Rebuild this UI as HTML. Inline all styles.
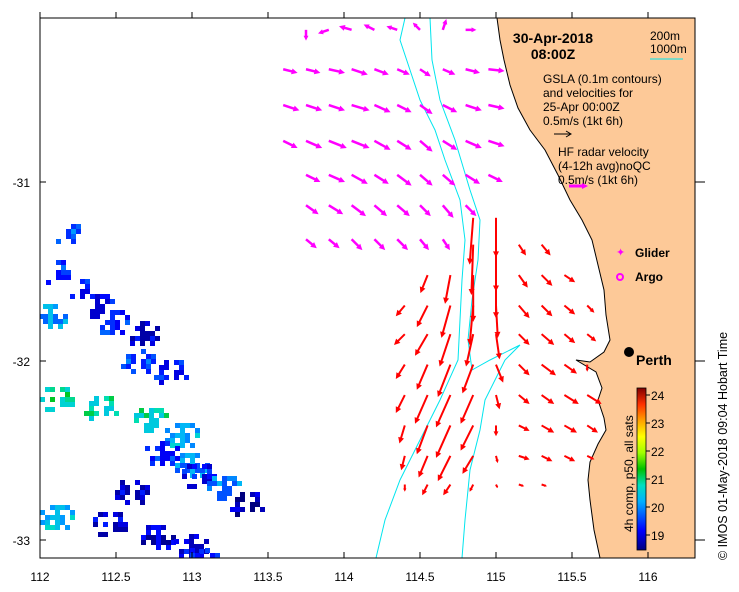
<!DOCTYPE html>
<html><head><meta charset="utf-8"><style>
html,body{margin:0;padding:0;background:#fff;}
svg{display:block;font-family:"Liberation Sans",sans-serif;}
</style></head><body>
<svg id="map" width="739" height="592" viewBox="0 0 739 592">
<defs>
<linearGradient id="jet" x1="0" y1="1" x2="0" y2="0">
<stop offset="0" stop-color="#00007f"/><stop offset="0.12" stop-color="#0000ff"/>
<stop offset="0.3" stop-color="#00b0ff"/><stop offset="0.4" stop-color="#00e0c0"/>
<stop offset="0.5" stop-color="#00c000"/><stop offset="0.6" stop-color="#a0ff00"/>
<stop offset="0.7" stop-color="#ffff00"/><stop offset="0.8" stop-color="#ffa000"/>
<stop offset="0.9" stop-color="#ff3000"/><stop offset="1" stop-color="#800000"/>
</linearGradient>
<clipPath id="plotclip"><rect x="40" y="18" width="655" height="540"/></clipPath>
</defs>
<g clip-path="url(#plotclip)">
<g id="sst"></g>
<path fill="#fdc998" stroke="#000" stroke-width="1"
 d="M497,18 L500,40 L504,60 L510,85 L518,108 L530,130 L545,150 L558,175 L570,200 L582,220 L592,240 L598,265 L604,290 L606,315 L610,340 L604,352 L590,362 L576,360 L596,372 L602,388 L598,400 L604,418 L606,430 L598,444 L590,462 L588,480 L590,500 L594,530 L600,558 L700,558 L700,18 Z"/>
<polyline fill="none" stroke="#00e5ee" stroke-width="1"
 points="405,18 400,40 410,70 420,100 435,130 445,160 460,200 465,240 462,280 460,320 458,360 440,400 420,440 400,480 385,520 376,558"/>
<polyline fill="none" stroke="#00e5ee" stroke-width="1"
 points="430,18 432,60 440,100 455,140 470,190 480,220 478,260 472,300 468,340 472,370 490,360 510,350 520,345 505,360 495,380 485,400 480,430 470,470 465,520 462,558"/>
<g id="arrows"></g>
</g>
<rect x="40" y="18" width="655" height="540" fill="none" stroke="#000" stroke-width="1"/>
<g id="ticks"></g>
<text x="553" y="43" font-size="14" font-weight="bold" text-anchor="middle">30-Apr-2018</text>
<text x="553" y="59" font-size="14" font-weight="bold" text-anchor="middle">08:00Z</text>
<text x="650" y="40" font-size="12">200m</text>
<text x="650" y="53" font-size="12">1000m</text>
<line x1="650" y1="59" x2="683" y2="59" stroke="#00e5ee"/>
<g font-size="12">
<text x="543" y="83">GSLA (0.1m contours)</text>
<text x="543" y="97">and velocities for</text>
<text x="543" y="111">25-Apr 00:00Z</text>
<text x="543" y="125">0.5m/s (1kt 6h)</text>
<line x1="554" y1="134" x2="570" y2="134" stroke="#000"/><path d="M566,131 L571,134 L566,137" fill="none" stroke="#000"/>
<text x="558" y="156">HF radar velocity</text>
<text x="558" y="170">(4-12h avg)noQC</text>
<text x="558" y="184">0.5m/s (1kt 6h)</text>
<line x1="569" y1="186" x2="584" y2="186" stroke="#ff00ff" stroke-width="3"/><path d="M582,183 L588,186 L582,189 Z" fill="#ff00ff"/>
</g>
<g><text x="616" y="256" font-size="11" fill="#ff00ff">✦</text><text x="635" y="257" font-size="12" font-weight="bold">Glider</text></g>
<g><circle cx="620" cy="277" r="3" fill="none" stroke="#ff00ff" stroke-width="2"/><text x="635" y="281" font-size="12" font-weight="bold">Argo</text></g>
<circle cx="629" cy="352" r="5" fill="#000"/>
<text x="636" y="365" font-size="14" font-weight="bold">Perth</text>
<rect x="637" y="388" width="9" height="162" fill="url(#jet)" stroke="#000" stroke-width="0.8"/>
<g id="cbticks"></g>
<text transform="translate(633,532) rotate(-90)" font-size="12">4h comp, p50, all sats</text>
<text transform="translate(727,560) rotate(-90)" font-size="12.5">©  IMOS 01-May-2018 09:04 Hobart Time</text>
</svg>
<script>
const xTicks=[112,112.5,113,113.5,114,114.5,115,115.5,116];
const yTicks=[-31,-32,-33];
const cbTicks=[19,20,21,22,23,24];
const magLons=[113.6,113.75,113.9,114.05,114.2,114.35,114.5,114.65,114.8,114.95];
const magLats=[-30.15,-30.37,-30.57,-30.77,-30.96,-31.13,-31.32];
const magU=[
[null,0.0,-0.3,-0.35,-0.3,-0.3,-0.2,0.1,0.3,null],
[0.4,0.4,0.45,0.45,0.4,0.35,0.3,0.35,0.4,0.45],
[0.45,0.45,0.45,0.5,0.45,0.4,0.35,0.4,0.45,0.45],
[0.4,0.45,0.5,0.5,0.45,0.4,0.35,0.4,0.45,0.45],
[null,0.4,0.45,0.45,0.4,0.4,0.35,0.35,0.4,0.4],
[null,0.35,0.4,0.4,0.35,0.35,0.3,0.3,0.3,null],
[null,0.3,0.3,0.3,0.3,0.3,0.25,0.2,null,null]];
const magV=[
[null,-0.3,-0.1,0.1,0.15,0.1,0.2,0.3,0.0,null],
[-0.1,-0.1,-0.1,-0.15,-0.15,-0.15,-0.2,-0.15,-0.1,-0.05],
[-0.15,-0.15,-0.15,-0.15,-0.2,-0.2,-0.25,-0.2,-0.15,-0.1],
[-0.2,-0.2,-0.2,-0.2,-0.25,-0.25,-0.3,-0.25,-0.2,-0.15],
[null,-0.2,-0.2,-0.25,-0.25,-0.3,-0.3,-0.3,-0.25,-0.2],
[null,-0.25,-0.25,-0.3,-0.3,-0.3,-0.3,-0.35,-0.3,null],
[null,-0.25,-0.25,-0.3,-0.3,-0.3,-0.3,-0.3,null,null]];
const redLons=[114.4,114.55,114.7,114.85,115.0,115.15,115.3,115.45,115.6];
const redLats=[-31.2,-31.35,-31.52,-31.69,-31.85,-32.02,-32.19,-32.36,-32.53,-32.69];
const redU=[
[null,null,null,-0.1,0.0,null,null,null,null],
[null,null,null,-0.05,0.0,0.2,0.25,null,null],
[null,-0.2,-0.15,0.0,0.0,0.25,0.3,0.3,null],
[-0.25,-0.3,-0.25,-0.1,0.05,0.3,0.3,0.3,0.2],
[-0.3,-0.35,-0.3,-0.2,0.1,0.3,0.35,0.3,0.25],
[-0.25,-0.3,-0.35,-0.3,0.2,0.3,0.4,0.35,0.0],
[-0.25,-0.35,-0.4,-0.35,0.1,0.3,0.35,0.4,0.4],
[-0.15,-0.3,-0.4,-0.35,0.0,0.3,0.35,0.35,0.3],
[-0.1,-0.25,-0.35,-0.3,0.05,0.3,0.3,0.3,0.2],
[0.0,-0.15,-0.2,-0.1,0.05,0.15,0.15,null,null]];
const redV=[
[null,null,null,-1.3,-1.1,null,null,null,null],
[null,null,null,-1.4,-1.3,-0.3,-0.3,null,null],
[null,-0.5,-0.8,-1.3,-1.2,-0.35,-0.3,-0.2,null],
[-0.3,-0.6,-0.9,-1.1,-0.9,-0.35,-0.3,-0.25,-0.2],
[-0.3,-0.6,-0.9,-0.9,-0.7,-0.3,-0.3,-0.25,-0.2],
[-0.4,-0.7,-0.9,-0.8,-0.5,-0.3,-0.3,-0.25,-0.2],
[-0.5,-0.8,-0.9,-0.8,-0.4,-0.25,-0.25,-0.25,-0.25],
[-0.5,-0.8,-0.9,-0.7,-0.3,-0.15,-0.2,-0.2,-0.2],
[-0.4,-0.6,-0.7,-0.5,-0.2,-0.1,-0.15,-0.15,-0.1],
[-0.2,-0.3,-0.3,-0.2,-0.1,-0.05,-0.05,null,null]];
const sstLon=[112.14,112.07,112.23,112.36,112.46,112.05,112.66,112.63,112.1,112.39,112.72,112.92,112.99,112.79,112.59,113.03,113.35,113.2,112.1,112.76,112.98,113.05,112.45,112.85];
const sstLat=[-31.26,-31.49,-31.6,-31.68,-31.77,-31.74,-31.83,-31.99,-32.2,-32.25,-32.32,-32.4,-32.57,-32.5,-32.72,-32.63,-32.79,-32.7,-32.86,-32.97,-33.02,-33.1,-32.9,-32.05];
const sstT=[20.0,19.8,19.6,19.5,19.7,20.3,19.3,19.9,21.1,21.0,21.0,20.5,20.2,19.7,19.3,19.5,19.1,20.2,20.6,19.2,19.4,19.8,19.3,19.6];

const NS='http://www.w3.org/2000/svg';
const X=lon=>40+(lon-112)*152;
const Y=lat=>182+(-31-lat)*179;
const CY=t=>535-(t-19)*28;
const SC=36;
function colorT(t){const f=Math.max(0,Math.min(1,(t-18.8)/5.4));
 const stops=[[0,[0,0,127]],[0.12,[0,0,255]],[0.3,[0,176,255]],[0.4,[0,224,192]],[0.5,[0,192,0]],[0.6,[160,255,0]],[0.7,[255,255,0]],[0.8,[255,160,0]],[0.9,[255,48,0]],[1,[128,0,0]]];
 for(let i=1;i<stops.length;i++){if(f<=stops[i][0]){const a=stops[i-1],b=stops[i];const k=(f-a[0])/(b[0]-a[0]);
 return 'rgb('+a[1].map((c,j)=>Math.round(c+(b[1][j]-c)*k)).join(',')+')';}}return 'rgb(128,0,0)';}
function mk(tag,attrs,parent){const e=document.createElementNS(NS,tag);for(const k in attrs)e.setAttribute(k,attrs[k]);parent.appendChild(e);return e;}
const ticks=document.getElementById('ticks');
xTicks.forEach(v=>{const x=X(v);
 const t1=mk('line',{x1:x,y1:558,x2:x,y2:552,stroke:'#000'},ticks);
 
 
 const t2=mk('line',{x1:x,y1:18,x2:x,y2:12,stroke:'#000'},ticks);
 
 
 const l=mk('text',{x:x,y:581,'font-size':12,'text-anchor':'middle'},ticks);l.textContent=String(v);
 
 });
yTicks.forEach(v=>{const y=Y(v);
 const t1=mk('line',{x1:40,y1:y,x2:46,y2:y,stroke:'#000'},ticks);
 
 
 const t2=mk('line',{x1:695,y1:y,x2:705,y2:y,stroke:'#000'},ticks);
 
 
 const l=mk('text',{x:30,y:y+5,'font-size':12,'text-anchor':'end'},ticks);l.textContent=String(v);
 
 });
const cbt=document.getElementById('cbticks');
cbTicks.forEach(v=>{const y=CY(v);
 mk('line',{x1:646,y1:y,x2:650,y2:y,stroke:'#000'},cbt);
 const l=mk('text',{x:651,y:y+5,'font-size':12},cbt);l.textContent=String(v);
 
 });
const sst=document.getElementById('sst');
sstLon.forEach((lon,i)=>{const cx=X(lon),cy=Y(sstLat[i]);
 for(let a=-3;a<=3;a++)for(let b=-2;b<=2;b++){const h=((a*31+b*17+i*13)*(a+7)+i)%7;if(h<3)continue;if(Math.abs(a)+Math.abs(b)>4)continue;
 const r=mk('rect',{x:Math.round(cx+a*5),y:Math.round(cy+b*5),width:5,height:5,fill:colorT(sstT[i]+(h%3-1)*0.3)},sst);
 
 }});
const ar=document.getElementById('arrows');
function arrow(lon,lat,u,v,col,w){const x0=X(lon),y0=Y(lat),dx=u*SC,dy=-v*SC;const L=Math.hypot(dx,dy);if(L<1)return;
 const ux=dx/L,uy=dy/L,h=Math.min(6,L*0.45);
 const g=mk('g',{},ar);
 
 
 mk('line',{x1:x0,y1:y0,x2:x0+dx-ux*h*0.6,y2:y0+dy-uy*h*0.6,stroke:col,'stroke-width':w},g);
 const tx=x0+dx,ty=y0+dy,bx=tx-ux*h,by=ty-uy*h;
 mk('path',{d:`M${tx},${ty} L${bx-uy*h*0.5},${by+ux*h*0.5} L${bx+uy*h*0.5},${by-ux*h*0.5} Z`,fill:col},g);}
magLats.forEach((lat,r)=>magLons.forEach((lon,c)=>{const u=magU[r][c],v=magV[r][c];if(u===null)return;arrow(lon,lat,u,v,'#ff00ff',2.5);}));
redLats.forEach((lat,r)=>redLons.forEach((lon,c)=>{const u=redU[r][c],v=redV[r][c];if(u===null)return;arrow(lon,lat,u,v,'#ff0000',2);}));
</script>
</body></html>
